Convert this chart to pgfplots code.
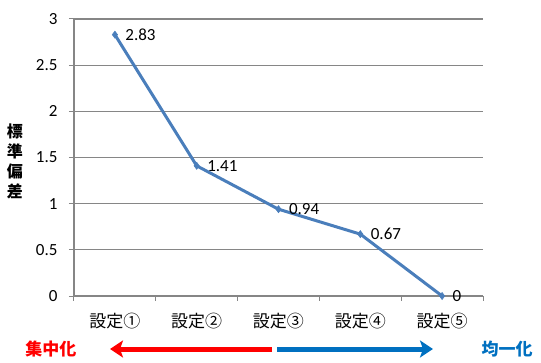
\documentclass[border=0pt]{standalone}
\usepackage{fontspec}
\usepackage{pgfplots}
\pgfplotsset{compat=1.18}
\usetikzlibrary{arrows.meta}
\setmainfont{Carlito}
\newfontfamily\jp{Noto Sans CJK JP}
\definecolor{line}{RGB}{74,126,187}
\definecolor{gridc}{RGB}{134,134,134}
\definecolor{myblue}{RGB}{0,112,192}
\begin{document}
\begin{tikzpicture}
\path[use as bounding box] (-74bp,-67bp) rectangle (467bp,296bp);
\begin{axis}[
  at={(0,0)}, anchor=south west,
  scale only axis, width=409bp, height=277bp,
  xmin=-0.5, xmax=4.5, ymin=0, ymax=3,
  xtick={0,1,2,3,4},
  xticklabels={{\jp 設定①},{\jp 設定②},{\jp 設定③},{\jp 設定④},{\jp 設定⑤}},
  minor xtick={-0.5,0.5,1.5,2.5,3.5,4.5},
  ytick={0,0.5,...,3},
  yticklabels={0,0.5,1,1.5,2,2.5,3},
  tick align=outside,
  major tick length=5bp, minor tick length=5bp,
  x tick style={draw=none},
  minor x tick style={draw=gridc, line width=1bp},
  y tick style={draw=gridc, line width=1bp},
  ymajorgrids, major grid style={gridc, line width=1.1bp},
  axis x line*=bottom, axis y line*=left,
  axis line style={gridc, line width=1.1bp, -},
  /pgf/number format/assume math mode=true,
  xticklabel style={font=\fontsize{17bp}{17bp}\selectfont, yshift=-9bp},
  yticklabel style={font=\fontsize{17bp}{17bp}\selectfont, xshift=-8bp},
  clip=false,
  nodes near coords,
  point meta=explicit symbolic,
  every node near coord/.style={anchor=west, xshift=7bp, font=\fontsize{17bp}{17bp}\selectfont, text=black},
]
\addplot[color=line, line width=3bp, mark=diamond*, mark size=3.6pt, mark options={fill=line, line width=0.5pt}]
 coordinates {(0,2.83)[2.83] (1,1.41)[1.41] (2,0.94)[0.94] (3,0.67)[0.67] (4,0)[0]};
\end{axis}
\node[font=\jp\bfseries\fontsize{16bp}{20bp}\selectfont, align=center] at (-59bp,135bp) {標\\準\\偏\\差};
\draw[red, line width=5bp, -{Stealth[width=17bp,length=13bp,inset=3bp]}] (198bp,-53bp) -- (36bp,-53bp);
\draw[myblue, line width=5bp, -{Stealth[width=17bp,length=13bp,inset=3bp]}] (203bp,-53bp) -- (359bp,-53bp);
\node[font=\jp\bfseries\fontsize{17bp}{17bp}\selectfont, text=red] at (-23bp,-53bp) {集中化};
\node[font=\jp\bfseries\fontsize{17bp}{17bp}\selectfont, text=myblue] at (433bp,-53bp) {均一化};
\end{tikzpicture}
\end{document}
